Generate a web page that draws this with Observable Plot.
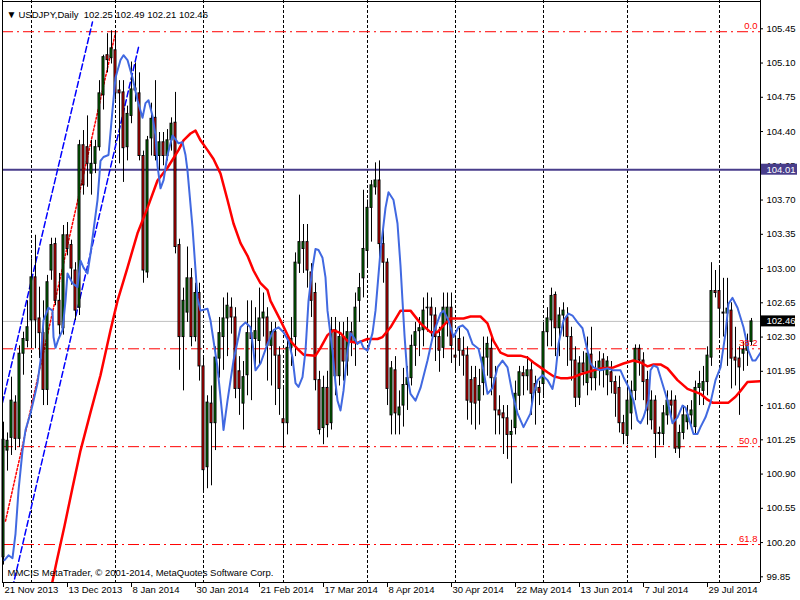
<!DOCTYPE html>
<html><head><meta charset="utf-8">
<script src="https://cdn.jsdelivr.net/npm/d3@7"></script>
<script src="https://cdn.jsdelivr.net/npm/@observablehq/plot@0.6"></script>
<style>
html,body{margin:0;padding:0;background:#fff;}
#chart{width:800px;height:600px;overflow:hidden;}
svg{display:block;}
</style></head><body><div id="chart"></div>
<script>
const symbol = "USDJPY", period = "Daily";
const copyright = "MMCIS MetaTrader, \u00a9 2001-2014, MetaQuotes Software Corp.";

const open = [100.05,101.14,101.27,101.63,101.26,102.13,102.26,102.47,102.91,102.49,
102.34,101.76,102.98,103.25,102.67,102.39,103.34,103.24,102.98,102.60,
104.26,104.24,103.97,104.07,104.24,104.77,105.18,105.15,105.23,104.82,
104.80,104.24,104.56,104.84,104.79,104.15,102.96,104.33,104.54,104.15,
104.29,104.15,104.31,104.49,103.24,102.30,102.55,102.90,102.30,102.75,
102.00,100.97,101.62,101.42,102.08,102.30,102.49,102.60,102.50,101.95,
101.62,101.91,102.34,102.28,102.26,102.49,102.50,102.21,102.35,102.11,
101.46,101.42,102.19,102.30,103.05,103.20,103.27,102.96,102.75,101.86,
101.37,101.78,101.42,102.37,101.90,102.30,102.05,102.35,102.25,102.67,
102.90,103.18,103.62,103.83,103.90,103.25,103.06,101.50,101.96,101.50,
101.60,101.81,101.88,102.21,102.36,102.37,102.60,102.60,102.52,102.30,
102.19,102.45,102.60,102.11,102.28,102.16,102.11,101.86,101.88,101.65,
101.83,102.09,102.18,101.88,101.55,101.52,101.47,101.30,101.37,101.70,
101.93,101.90,101.96,101.82,101.78,101.82,102.35,102.47,102.73,102.39,
102.52,102.50,102.30,102.06,101.68,102.03,101.83,102.12,101.88,101.96,
102.07,101.91,101.94,101.84,101.78,101.42,101.29,101.52,101.75,102.18,
102.06,101.86,101.45,101.65,101.32,101.31,101.50,101.65,101.65,101.16,
101.32,101.43,101.50,101.38,101.78,101.75,101.84,102.09,102.77,102.77,
102.55,102.54,102.57,102.09,102.08,102.13,102.16,102.25];
const high = [101.43,101.32,101.89,101.70,102.21,102.35,102.67,103.10,103.34,102.81,
102.67,102.93,103.31,103.31,102.95,103.44,103.47,103.29,103.06,104.31,
104.41,104.56,104.31,104.31,104.92,105.18,105.40,105.43,105.43,104.92,
104.92,104.66,105.11,105.10,105.00,104.20,104.35,104.69,104.92,104.39,
104.39,104.42,104.54,104.80,103.30,102.80,103.22,103.00,102.85,102.85,
102.10,101.70,101.80,102.20,102.50,102.70,102.75,102.70,102.60,102.10,
102.05,102.67,102.67,102.60,102.80,102.75,102.60,102.45,102.45,102.20,
101.80,102.30,102.50,103.16,103.75,103.45,103.45,103.05,102.85,101.95,
101.90,101.95,102.50,102.50,102.45,102.45,102.50,102.45,102.75,102.95,
103.80,103.70,103.90,104.08,104.10,103.40,103.10,102.05,102.10,101.75,
101.98,102.00,102.32,102.45,102.50,102.70,102.75,102.70,102.60,102.40,
102.75,102.75,102.75,102.30,102.40,102.30,102.20,102.00,102.00,101.97,
102.30,102.30,102.30,102.00,101.70,101.60,101.60,101.45,101.85,102.00,
102.00,102.10,102.05,101.90,101.85,102.45,102.60,102.80,102.76,102.60,
102.65,102.60,102.40,102.20,102.10,102.15,102.30,102.40,102.05,102.15,
102.13,102.10,102.05,101.90,101.90,101.50,101.85,101.85,102.22,102.22,
102.14,101.95,101.75,101.70,101.38,101.60,101.75,101.75,101.70,101.40,
101.60,101.60,101.65,101.85,101.95,102.00,102.20,103.06,102.98,103.00,
102.90,102.90,102.65,102.40,102.20,102.25,102.33,102.49];
const low = [99.97,100.93,101.09,101.14,101.17,101.91,102.19,102.21,102.18,102.08,
101.60,101.60,102.88,102.62,102.32,102.32,103.13,102.83,102.47,102.52,
103.75,103.83,103.75,103.97,104.20,104.62,105.00,105.09,104.72,104.07,
103.88,104.10,104.48,104.70,104.10,102.85,102.90,104.15,104.10,104.00,
104.05,104.10,104.20,103.15,101.96,101.75,102.45,102.20,102.25,101.85,
100.73,100.75,100.78,101.14,101.88,101.96,102.10,102.33,101.67,101.50,
101.35,101.70,101.65,102.00,102.00,102.30,101.85,101.80,101.60,101.50,
101.17,101.30,102.00,102.10,102.95,102.95,102.80,102.50,101.75,101.30,
101.20,101.27,101.35,101.70,101.80,101.85,101.90,102.10,102.00,102.45,
102.70,103.00,103.27,103.75,103.00,102.85,101.60,101.30,101.30,101.30,
101.38,101.55,101.80,102.00,102.10,102.20,102.35,102.30,102.05,101.94,
102.08,102.30,102.03,101.95,102.00,101.90,101.45,101.40,101.35,101.40,
101.70,101.90,101.70,101.30,101.30,101.10,101.05,100.80,101.30,101.55,
101.70,101.75,101.50,101.40,101.60,101.70,102.20,102.20,102.10,102.10,
102.30,102.00,101.85,101.58,101.60,101.80,101.70,101.75,101.75,101.80,
101.78,101.70,101.72,101.48,101.32,101.20,101.20,101.35,101.65,101.90,
101.65,101.40,101.35,101.06,101.19,101.19,101.40,101.45,101.11,101.06,
101.25,101.35,101.40,101.30,101.60,101.60,101.70,102.00,102.70,102.30,
102.30,102.00,101.77,101.80,101.50,101.95,102.00,102.21];
const close = [101.25,101.24,101.65,101.26,102.13,102.28,102.40,102.91,102.47,102.34,
101.76,102.86,103.24,102.67,102.42,103.34,103.20,103.00,102.57,104.26,
103.85,104.07,104.07,104.24,104.79,105.16,105.13,105.25,104.79,104.79,
104.23,104.58,104.83,104.82,104.15,102.98,104.31,104.53,104.15,104.29,
104.15,104.31,104.48,103.22,102.30,102.67,102.90,102.30,102.75,102.00,
100.94,101.63,101.42,102.09,102.34,102.49,102.62,102.50,101.77,101.77,
101.89,102.34,102.28,102.36,102.49,102.55,102.21,102.35,102.11,101.77,
101.42,102.19,102.28,103.06,103.27,103.27,102.98,102.67,101.86,101.35,
101.78,101.40,102.37,101.90,102.30,102.05,102.35,102.25,102.60,102.80,
103.20,103.62,103.85,103.90,103.25,103.06,101.77,101.98,101.52,101.58,
101.81,101.88,102.21,102.35,102.39,102.57,102.60,102.52,102.30,102.16,
102.60,102.60,102.21,102.09,102.16,102.11,101.65,101.63,101.62,101.80,
102.09,102.23,101.88,101.55,101.50,101.47,101.30,101.33,101.72,101.94,
101.90,101.96,101.72,101.75,101.73,102.35,102.49,102.72,102.39,102.52,
102.57,102.30,102.06,101.68,102.03,101.94,102.13,101.88,101.96,102.05,
101.96,102.05,101.84,101.72,101.42,101.31,101.65,101.75,102.18,102.06,
101.84,101.55,101.65,101.31,101.31,101.52,101.65,101.60,101.16,101.32,
101.50,101.50,101.55,101.78,101.82,101.84,102.11,102.77,102.75,102.59,
102.54,102.59,102.08,102.06,101.99,102.17,102.24,102.46];

// moving averages: [bar position, price]
const maSlow = [[11.25,99.61],[13.25,100.00],[15.25,100.37],[17.25,100.76],[19.25,101.14],[21.75,101.53],[24.25,101.91],[26.75,102.37],[28.5,102.67],[31,103.01],[33.5,103.36],[36,103.62],[38.5,103.90],[41,104.03],[43.75,104.21],[45,104.31],[46.75,104.38],[48,104.41],[49.25,104.31],[51,104.21],[52.5,104.12],[54.25,103.97],[56,103.70],[57.5,103.46],[59.25,103.26],[61,103.13],[62.5,102.98],[64.25,102.85],[66,102.78],[66.75,102.67],[69.25,102.47],[71.75,102.26],[73.5,102.18],[75,102.12],[78,102.11],[79.25,102.19],[81,102.32],[82.5,102.37],[84.25,102.34],[86,102.26],[88.5,102.24],[91,102.28],[93.5,102.28],[94.75,102.30],[96.75,102.40],[99.25,102.57],[101.75,102.57],[104.25,102.44],[106.75,102.35],[108.5,102.35],[110,102.42],[111.75,102.49],[115,102.49],[116.75,102.51],[119.25,102.51],[121,102.44],[122.5,102.26],[124.25,102.14],[126,102.11],[129.25,102.11],[131,102.09],[132.5,102.04],[134.25,101.99],[136,101.94],[137.5,101.90],[139.25,101.88],[141,101.88],[142.5,101.89],[144.25,101.92],[147.5,101.96],[149.25,101.98],[152.5,101.99],[155,102.03],[157.5,102.06],[159.25,102.04],[161,102.00],[162.5,102.02],[164.25,102.02],[166,101.98],[168.5,101.86],[171,101.77],[174.25,101.72],[176,101.66],[177.25,101.63],[181.25,101.63],[183,101.69],[184.25,101.75],[186,101.84],[189.25,101.85]];
const maFast = [[0.25,100.02],[1.25,100.07],[2.25,100.04],[3,100.29],[3.75,100.73],[4.75,101.14],[5.5,101.35],[6.75,101.52],[7.5,101.65],[8.5,101.83],[9.25,102.06],[10,102.47],[11.25,102.60],[12.25,102.57],[12.5,102.30],[13,102.19],[13.75,102.28],[14.75,102.37],[15.5,102.67],[16,102.95],[17.25,102.85],[18.5,102.81],[19.25,103.08],[20,103.01],[21,102.95],[21.75,103.15],[22.5,103.39],[23.5,103.70],[24.25,104.10],[25,104.14],[26.25,104.16],[27.25,104.62],[28,104.95],[29.25,105.13],[30,105.18],[31,105.13],[32.25,104.95],[33.5,104.72],[34.75,104.54],[35.5,104.69],[36.25,104.72],[37.25,104.56],[38,104.36],[38.5,104.05],[39.25,103.82],[40,103.90],[41,104.16],[42.25,104.36],[43.75,104.28],[44.75,104.29],[45.5,104.16],[46,104.00],[47.25,103.42],[48.5,102.70],[49.25,102.57],[51,102.59],[51.75,102.47],[53.5,101.99],[54.75,101.48],[55,101.35],[56,101.65],[57.5,102.06],[59.25,102.40],[60.5,102.45],[61.75,102.40],[62.5,102.16],[63,101.96],[64.25,102.03],[66,102.23],[67.5,102.37],[68.75,102.40],[70,102.35],[71.25,102.26],[72.25,102.09],[73,101.83],[73.75,101.79],[74.75,101.89],[75.5,102.16],[76.25,102.67],[77.25,103.01],[78,103.20],[78.75,103.19],[79.75,103.11],[80.5,102.91],[81,102.57],[82.25,102.16],[83,101.83],[83.5,101.65],[84.25,101.55],[85,101.75],[86,102.16],[86.75,102.34],[87.5,102.30],[88.5,102.23],[89.25,102.26],[90,102.19],[91,102.16],[92.25,102.34],[93,102.57],[94.25,103.18],[95.5,103.62],[96.25,103.78],[97.5,103.70],[98.5,103.46],[99.25,103.03],[99.75,102.67],[100.25,102.32],[101,101.89],[101.75,101.72],[103,101.65],[104.25,101.78],[106,102.06],[107.5,102.34],[109.25,102.54],[110,102.57],[111.25,102.47],[112.5,102.30],[113.75,102.40],[114.75,102.42],[116,102.37],[117.25,102.23],[118.75,102.18],[120,101.96],[121,101.72],[122.25,101.78],[123.5,101.99],[124.75,102.06],[126,101.99],[127.25,101.72],[128.5,101.52],[130,101.38],[131.75,101.52],[132.5,101.72],[133.5,101.86],[134.75,101.91],[136,101.86],[137.25,101.77],[138,101.93],[138.75,102.23],[140,102.47],[141.25,102.54],[142.25,102.52],[143.5,102.45],[144.75,102.39],[145.5,102.25],[146.75,102.03],[147.5,101.99],[149.25,101.96],[151,101.98],[152.5,101.96],[154.25,101.96],[155,101.89],[156.25,101.79],[157.5,101.65],[158.5,101.45],[159.25,101.42],[160,101.48],[161.25,101.65],[161.75,101.96],[162.5,102.01],[163.5,101.99],[164.25,101.89],[165.5,101.72],[166,101.65],[167.25,101.42],[168.5,101.48],[169.75,101.60],[170.5,101.58],[171.25,101.48],[172.5,101.31],[173.5,101.31],[174.25,101.38],[175.5,101.48],[176.75,101.63],[178,101.86],[179.25,101.99],[180.5,102.34],[181.25,102.64],[182.25,102.70],[183.5,102.60],[185,102.40],[186.25,102.16],[187.25,102.06],[188,102.06],[189.25,102.14]];

// drawn objects
const channelLines = [[[-0.25,101.63],[22.25,105.52]], [[1.75,99.65],[33.75,105.26]]];
const fibBaseLine = [[0.5,100.42],[28,105.41]];
const fibLevels = [0.0, 38.2, 50.0, 61.8];
const fibPrices = [105.42, 102.18, 101.18, 100.18];
const hLinePrice = 104.01;
const bidPrice = 102.46;

// axes
const priceTicks = [99.85,100.20,100.55,100.90,101.25,101.60,101.95,102.30,102.65,103.00,103.35,103.70,104.05,104.40,104.75,105.10,105.45];
const dateTickBars = [0,16,32,48,64,80,96,112,128,144,160,176];
const dateTickLabels = ["21 Nov 2013","13 Dec 2013","8 Jan 2014","30 Jan 2014","21 Feb 2014","17 Mar 2014","8 Apr 2014","30 Apr 2014","22 May 2014","13 Jun 2014","7 Jul 2014","29 Jul 2014"];
const monthStartBars = [7,28,50,70,91,113,135,156,179];

const N = open.length;
const bars = d3.range(N).map(i => ({i, o: open[i], h: high[i], l: low[i], c: close[i]}));
const X0 = -0.25, X1 = 189.25, Y0 = 99.792, Y1 = 105.739;
const PX = (Y1 - Y0) / 582;
const FONT = "Liberation Sans, Arial, sans-serif";
const fib = fibLevels.map((lv, k) => ({lv, p: fibPrices[k]}));
const dateTicks = dateTickBars.map((b, k) => ({b, t: dateTickLabels[k]}));
const f2 = v => v.toFixed(2);
const titleText = `${symbol},${period}\u00a0\u00a0${f2(open[N-1])} ${f2(high[N-1])} ${f2(low[N-1])} ${f2(close[N-1])}`;

const chart = Plot.plot({
  width: 800, height: 600,
  marginLeft: 2, marginRight: 40, marginTop: 0, marginBottom: 18,
  x: {domain: [X0, X1], axis: null},
  y: {domain: [Y0, Y1], axis: null},
  style: {fontFamily: FONT, background: "#fff", overflow: "visible"},
  marks: [
    Plot.ruleX(monthStartBars, {stroke: "#000", strokeDasharray: "3,2"}),
    Plot.ruleY(fibPrices, {x1: X0, x2: X1, stroke: "#ff0000", strokeDasharray: "11,4,2,4"}),
    Plot.ruleY([bidPrice], {x1: X0, x2: X1, stroke: "#c0c0c0"}),
    Plot.ruleY([hLinePrice], {x1: X0, x2: X1, stroke: "#483d8b", strokeWidth: 2}),
    Plot.line(fibBaseLine, {x: d => d[0], y: d => d[1], stroke: "#ff0000", strokeDasharray: "2,2", clip: true}),
    ...channelLines.map(seg => Plot.line(seg, {x: d => d[0], y: d => d[1], stroke: "#0000ff", strokeDasharray: "6,3", clip: true})),
    Plot.ruleX(bars, {x: "i", y1: "l", y2: "h", stroke: "#000"}),
    Plot.rect(bars, {x1: d => d.i - 0.25, x2: d => d.i + 0.25, y1: "o",
      y2: d => Math.abs(d.c - d.o) < 0.006 ? d.o - 0.006 : d.c,
      fill: d => d.c >= d.o ? "#008000" : "#ff0000", stroke: "#000", strokeWidth: 1}),
    Plot.line(maSlow, {x: d => d[0], y: d => d[1], stroke: "#ff0000", strokeWidth: 2.5, clip: true}),
    Plot.line(maFast, {x: d => d[0], y: d => d[1], stroke: "#4169e1", strokeWidth: 2, clip: true}),
    Plot.text(fib, {x: X1, y: "p", text: d => d.lv.toFixed(1), textAnchor: "end", dx: -3, dy: -6, fill: "#ff0000", fontSize: 9.5}),
    // frame
    Plot.ruleX([X0], {stroke: "#000"}),
    Plot.ruleY([Y1 - PX], {x1: X0, x2: X1, stroke: "#000"}),
    Plot.ruleX([X1], {stroke: "#000"}),
    Plot.ruleY([Y0], {x1: X0, x2: X1, stroke: "#000"}),
    // right price axis
    Plot.ruleY(priceTicks, {x1: X1, x2: X1 + 0.75, stroke: "#000"}),
    Plot.text(priceTicks, {x: X1, y: d => d, text: f2, textAnchor: "start", dx: 6, fill: "#000", fontSize: 9.5}),
    Plot.rect([hLinePrice], {x1: X1 + 0.25, x2: X1 + 9.25, y1: d => d - 5.5 * PX, y2: d => d + 5.5 * PX, fill: "#483d8b"}),
    Plot.text([hLinePrice], {x: X1, y: d => d, text: f2, textAnchor: "start", dx: 6, fill: "#fff", fontSize: 9.5}),
    Plot.rect([bidPrice], {x1: X1 + 0.25, x2: X1 + 8.75, y1: d => d - 5.5 * PX, y2: d => d + 5.5 * PX, fill: "#000"}),
    Plot.text([bidPrice], {x: X1, y: d => d, text: f2, textAnchor: "start", dx: 6, fill: "#fff", fontSize: 9.5}),
    // bottom date axis
    Plot.ruleX(dateTickBars, {y1: Y0, y2: Y0 - 5 * PX, stroke: "#000"}),
    Plot.text(dateTicks, {x: "b", frameAnchor: "bottom", text: "t", textAnchor: "start", dx: 1, dy: 10, fill: "#000", fontSize: 9.5}),
    // title & copyright
    Plot.text(["\u25bc"], {frameAnchor: "top-left", dx: 4, dy: 10, textAnchor: "start", fontSize: 10, fill: "#000"}),
    Plot.text([titleText], {frameAnchor: "top-left", dx: 16, dy: 11, textAnchor: "start", fontSize: 9.5, fill: "#000"}),
    Plot.text([copyright], {frameAnchor: "bottom-left", dx: 5, dy: -7, textAnchor: "start", fontSize: 9.5, fill: "#000"})
  ]
});
document.getElementById("chart").appendChild(chart);
</script>
</body></html>
